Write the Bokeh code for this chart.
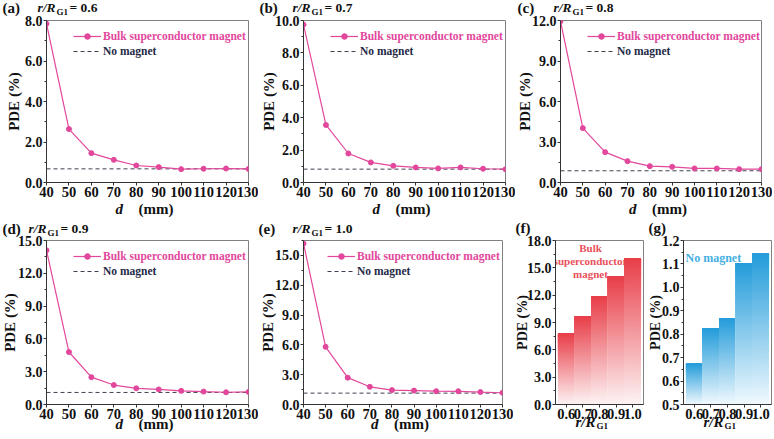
import numpy as np
from bokeh.plotting import figure
from bokeh.models import Label, Legend, LegendItem, FixedTicker, Range1d, PrintfTickFormatter
from bokeh.layouts import row, column
from bokeh.embed import file_html
from bokeh.resources import INLINE
from bokeh.core.properties import value

FONT = "Liberation Serif"
PINK = "#E2479C"
NAVY = "#1F2A47"
DASH = "#3F4150"
RED_TOP = (232, 62, 72)
RED_BOT = (253, 243, 244)
BLUE_TOP = (36, 156, 218)
BLUE_BOT = (240, 249, 254)

# ---------------- data ----------------
d_mm = [40, 50, 60, 70, 80, 90, 100, 110, 120, 130]
pde_06 = [7.84, 2.64, 1.45, 1.12, 0.84, 0.76, 0.66, 0.68, 0.69, 0.67]
pde_07 = [9.75, 3.55, 1.79, 1.24, 1.03, 0.93, 0.87, 0.93, 0.85, 0.82]
pde_08 = [11.95, 4.03, 2.25, 1.58, 1.21, 1.16, 1.04, 1.04, 0.99, 0.99]
pde_09 = [14.1, 4.8, 2.5, 1.78, 1.48, 1.38, 1.25, 1.18, 1.12, 1.15]
pde_10 = [16.2, 5.8, 2.7, 1.78, 1.45, 1.40, 1.34, 1.33, 1.25, 1.18]
ratio_labels = ["0.6", "0.7", "0.8", "0.9", "1.0"]
bulk_magnet = [7.8, 9.67, 11.87, 14.05, 16.05]
no_magnet = [0.674, 0.824, 0.869, 1.103, 1.143]

ticks_a = [0, 2, 4, 6, 8]
ticks_b = [0, 2, 4, 6, 8, 10]
ticks_c = [0, 3, 6, 9, 12]
ticks_d = [0, 3, 6, 9, 12, 15]
ticks_e = [0, 3, 6, 9, 12, 15]
ticks_f = [0, 3, 6, 9, 12, 15, 18]
ticks_g = [0.5, 0.6, 0.7, 0.8, 0.9, 1.0, 1.1, 1.2]


def minor_of(t, extra_top=None):
    m = [(t[i] + t[i + 1]) / 2 for i in range(len(t) - 1)]
    if extra_top is not None:
        m.append(extra_top)
    return m


def base_fig(left, fw, right, top, fh, bottom, xr, yr):
    p = figure(width=left + fw + right, height=top + fh + bottom, x_range=xr, y_range=yr,
               output_backend="svg", toolbar_location=None, title=None,
               min_border_left=left, min_border_right=right,
               min_border_top=top, min_border_bottom=bottom)
    p.grid.visible = False
    p.outline_line_color = "#808080"
    p.outline_line_width = 1
    for ax, fs in ((p.xaxis[0], "14.5px"), (p.yaxis[0], "14px")):
        ax.axis_line_color = "#333333"
        ax.major_tick_line_color = "#333333"
        ax.minor_tick_line_color = "#333333"
        ax.major_tick_in = 0
        ax.major_tick_out = 3
        ax.minor_tick_in = 0
        ax.minor_tick_out = 2
        ax.major_label_text_font = FONT
        ax.major_label_text_font_style = "bold"
        ax.major_label_text_font_size = fs
        ax.major_label_text_color = "#111111"
        ax.major_label_standoff = 1
    return p


def gtext(p, x, y, text, size, xoff=0, yoff=0, style="bold", color="#111111",
          align="left", baseline="middle", angle=0.0):
    # text glyph anchored to a data position, shifted by pixel offsets, drawn unclipped
    p.text(x=[x], y=[y], text=[text], x_offset=xoff, y_offset=yoff, angle=angle,
           text_font=value(FONT), text_font_size=value(size), text_font_style=style,
           text_color=color, text_align=align, text_baseline=baseline, level="overlay")


def ratio_title(p, letter, ratio, letter_off, r_off, dy):
    x0, y0 = p.x_range.start, p.y_range.end
    gtext(p, x0, y0, "(" + letter + ")", "15px", xoff=letter_off, yoff=-dy)
    gtext(p, x0, y0, "r/R", "13.5px", xoff=r_off, yoff=-dy, style="bold italic")
    gtext(p, x0, y0, "G1", "9px", xoff=r_off + 19, yoff=-dy + 4)
    gtext(p, x0, y0, "= " + ratio, "13.5px", xoff=r_off + 32, yoff=-dy)


def ylabel(p, off, size="15px"):
    gtext(p, p.x_range.start, (p.y_range.start + p.y_range.end) / 2, "PDE (%)", size,
          xoff=-off, angle=np.pi / 2, align="center")


def line_panel(letter, ratio, pde, nm, yt, ym, ymax, left, fw, right, top, fh, bottom,
               pde_off, letter_off, r_off, title_dy, xlab_dy, leg_x=27):
    p = base_fig(left, fw, right, top, fh, bottom, Range1d(d_mm[0], d_mm[-1]), Range1d(0, ymax))
    p.xaxis.ticker = FixedTicker(ticks=d_mm)
    p.yaxis.ticker = FixedTicker(ticks=yt, minor_ticks=ym)
    p.yaxis.formatter = PrintfTickFormatter(format="%.1f")
    r_nm = p.line(d_mm, [nm] * len(d_mm), line_color=DASH, line_dash="4 3", line_width=1)
    r_l = p.line(d_mm, pde, line_color=PINK, line_width=1.2)
    r_s = p.scatter(d_mm, pde, size=5, fill_color=PINK, line_color=PINK)

    def mk_leg(label, rs, color, y_from_top):
        leg = Legend(items=[LegendItem(label=label, renderers=rs)],
                     location=(leg_x, fh - y_from_top - 7),
                     padding=0, margin=0, spacing=0, border_line_color=None,
                     background_fill_alpha=0, glyph_width=28, glyph_height=14,
                     label_height=14, label_standoff=2, label_text_font=FONT,
                     label_text_font_style="bold", label_text_font_size="11.5px",
                     label_text_color=color)
        p.add_layout(leg, "center")

    mk_leg("Bulk superconductor magnet", [r_l, r_s], PINK, 16)
    mk_leg("No magnet", [r_nm], NAVY, 31)

    ratio_title(p, letter, ratio, letter_off, r_off, title_dy)
    ylabel(p, pde_off)
    xm = (p.x_range.start + p.x_range.end) / 2
    gtext(p, xm, 0, "d", "15px", xoff=-32, yoff=xlab_dy, style="bold italic")
    gtext(p, xm, 0, "(mm)", "15px", xoff=-9, yoff=xlab_dy)
    return p


def mix(c1, c2, t):
    r = [int(round(a + (b - a) * t)) for a, b in zip(c1, c2)]
    return "#%02x%02x%02x" % tuple(r)


def bar_panel(letter, vals, base, ytop, yt, ym, ctop, cbot, left, fw, right, top,
              fh, bottom, pde_off, letter_off):
    xpos = list(range(1, len(ratio_labels) + 1))
    p = base_fig(left, fw, right, top, fh, bottom, Range1d(0.35, len(xpos) + 0.65),
                 Range1d(base, ytop))
    p.xaxis.ticker = FixedTicker(ticks=xpos)
    p.xaxis.major_label_overrides = {x: lab for x, lab in zip(xpos, ratio_labels)}
    p.yaxis.ticker = FixedTicker(ticks=yt, minor_ticks=ym)
    p.yaxis.formatter = PrintfTickFormatter(format="%.1f")
    N = 70
    L, R, B, T, C = [], [], [], [], []
    for x, v in zip(xpos, vals):
        edges = np.linspace(base, v, N + 1)
        for k in range(N):
            L.append(x - 0.5)
            R.append(x + 0.5)
            B.append(edges[k])
            T.append(v)
            C.append(mix(cbot, ctop, (k + 0.5) / N))
    p.quad(left=L, right=R, bottom=B, top=T, fill_color=C, line_color=None)
    gtext(p, p.x_range.start, p.y_range.end, "(" + letter + ")", "15px",
          xoff=letter_off, yoff=-13)
    ylabel(p, pde_off, "14px")
    xm = (p.x_range.start + p.x_range.end) / 2
    gtext(p, xm, base, "r/R", "15px", xoff=-24, yoff=17, style="bold italic")
    gtext(p, xm, base, "G1", "9px", xoff=-3, yoff=21)
    return p


TOP1, FH1, BOT1 = 20, 162, 36
TOP2, FH2, BOT2 = 22, 164, 33

pa = line_panel("a", "0.6", pde_06, no_magnet[0], ticks_a, minor_of(ticks_a), 8,
                46, 202, 10, TOP1, FH1, BOT1, 33, -44, -9, 13, 26)
pb = line_panel("b", "0.7", pde_07, no_magnet[1], ticks_b, minor_of(ticks_b), 10,
                45, 202, 10, TOP1, FH1, BOT1, 35, -44, -11, 13, 26)
pc = line_panel("c", "0.8", pde_08, no_magnet[2], ticks_c, minor_of(ticks_c), 12,
                45, 201, 11, TOP1, FH1, BOT1, 36, -43, -7, 13, 26)
pd = line_panel("d", "0.9", pde_09, no_magnet[3], ticks_d, minor_of(ticks_d), 15,
                46, 202, 10, TOP2, FH2, BOT2, 37, -44, -18, 12, 19)
pe = line_panel("e", "1.0", pde_10, no_magnet[4], ticks_e, minor_of(ticks_e, 16.5), 16.5,
                45, 199, 11, TOP2, FH2, BOT2, 36, -45, -11, 12, 19, leg_x=24)

pf = bar_panel("f", bulk_magnet, 0, 18, ticks_f, minor_of(ticks_f), RED_TOP, RED_BOT,
               42, 88, 4, TOP2, FH2, BOT2, 33, -40)
pf.add_layout(Label(x=35, y=FH2 - 1, x_units="screen", y_units="screen",
                    text="Bulk\nsuperconductor\nmagnet", text_font=FONT,
                    text_font_size="11px", text_font_style="bold", text_color="#E8505A",
                    text_align="center", text_baseline="top", text_line_height=1.1,
                    level="underlay"))

pg = bar_panel("g", no_magnet, 0.5, 1.2, ticks_g, minor_of(ticks_g), BLUE_TOP, BLUE_BOT,
               36, 88, 1, TOP2, FH2, BOT2, 28, -35)
pg.add_layout(Label(x=2, y=FH2 - 17, x_units="screen", y_units="screen", text="No magnet",
                    text_font=FONT, text_font_size="12px", text_font_style="bold",
                    text_color="#45B0E2", text_baseline="middle"))

layout = column(row(pa, pb, pc), row(pd, pe, pf, pg))
open("out.html", "w").write(file_html(layout, INLINE))
